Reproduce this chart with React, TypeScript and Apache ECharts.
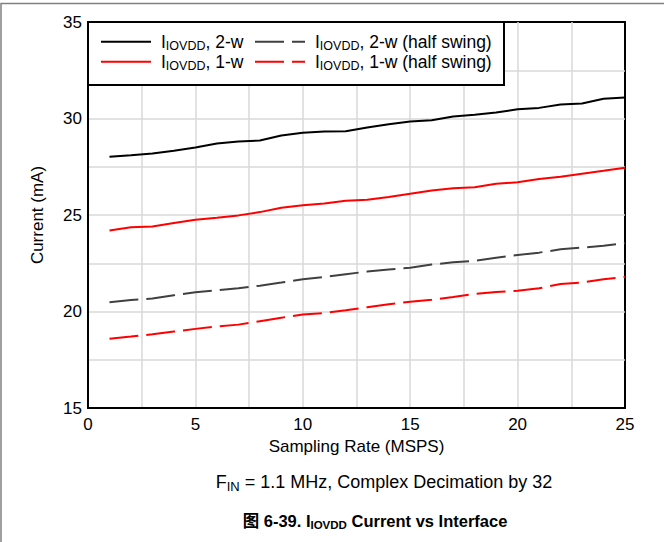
import React, { useEffect, useRef } from "react";
import * as echarts from "echarts";

const xValues = [1, 2, 3, 4, 5, 6, 7, 8, 9, 10, 11, 12, 13, 14, 15, 16, 17, 18, 19, 20, 21, 22, 23, 24, 25];
const twoWire = [28.02, 28.1, 28.19, 28.33, 28.5, 28.7, 28.81, 28.86, 29.12, 29.26, 29.33, 29.34, 29.53, 29.7, 29.84, 29.91, 30.1, 30.2, 30.31, 30.48, 30.55, 30.72, 30.78, 31.02, 31.09];
const twoWireHalf = [20.48, 20.6, 20.67, 20.84, 21.0, 21.1, 21.2, 21.34, 21.5, 21.67, 21.79, 21.93, 22.07, 22.17, 22.27, 22.43, 22.55, 22.63, 22.79, 22.93, 23.05, 23.22, 23.31, 23.41, 23.54];
const oneWire = [24.2, 24.36, 24.41, 24.58, 24.75, 24.86, 24.98, 25.15, 25.38, 25.5, 25.6, 25.74, 25.79, 25.93, 26.1, 26.27, 26.39, 26.44, 26.62, 26.7, 26.86, 26.98, 27.14, 27.29, 27.45];
const oneWireHalf = [18.59, 18.7, 18.82, 18.96, 19.1, 19.22, 19.32, 19.5, 19.68, 19.84, 19.92, 20.06, 20.22, 20.38, 20.5, 20.61, 20.75, 20.91, 21.01, 21.08, 21.2, 21.43, 21.5, 21.67, 21.79];

const seriesNames = [
  "IIOVDD, 2-w",
  "IIOVDD, 2-w (half swing)",
  "IIOVDD, 1-w",
  "IIOVDD, 1-w (half swing)",
];
const legendLabels: Record<string, string> = {
  "IIOVDD, 2-w": "{n|I}{s|IOVDD}{n|, 2-w}",
  "IIOVDD, 2-w (half swing)": "{n|I}{s|IOVDD}{n|, 2-w (half swing)}",
  "IIOVDD, 1-w": "{n|I}{s|IOVDD}{n|, 1-w}",
  "IIOVDD, 1-w (half swing)": "{n|I}{s|IOVDD}{n|, 1-w (half swing)}",
};

const xAxisTitle = "Sampling Rate (MSPS)";
const yAxisTitle = "Current (mA)";

const FONT = "'Liberation Sans', Arial, 'Noto Sans CJK SC', sans-serif";

function pairs(ys: number[]) {
  return xValues.map((x, i) => [x, ys[i]]);
}

export default function App() {
  const ref = useRef<HTMLDivElement>(null);
  useEffect(() => {
    if (!ref.current) return;
    const chart = echarts.init(ref.current, undefined, { renderer: "svg" });
    const legendText = {
      color: "#000",
      fontFamily: FONT,
      fontSize: 17.5,
      padding: [0, 0, 0, 5],
      rich: {
        n: { fontSize: 17.5, fontFamily: FONT, color: "#000" },
        s: { fontSize: 12.5, fontFamily: FONT, color: "#000", padding: [9, 0, 0, 0] },
      },
    };
    const mkLegend = (name: string, left: number, top: number) => ({
      data: [name],
      left,
      top,
      padding: 0,
      itemWidth: 50,
      itemHeight: 20,
      z: 10,
      selectedMode: false,
      itemStyle: { opacity: 0, borderWidth: 0 },
      formatter: (n: string) => legendLabels[n],
      textStyle: legendText,
    });
    const axisLabelStyle = { color: "#000", fontSize: 17, fontFamily: FONT };
    chart.setOption({
      animation: false,
      backgroundColor: "#fff",
      grid: {
        left: 88,
        right: 39,
        top: 22,
        bottom: 134,
        show: true,
        borderColor: "#000",
        borderWidth: 2,
        backgroundColor: "transparent",
      },
      legend: [
        mkLegend(seriesNames[0], 100, 33),
        mkLegend(seriesNames[1], 254, 33),
        mkLegend(seriesNames[2], 100, 53),
        mkLegend(seriesNames[3], 254, 53),
      ],
      xAxis: {
        type: "value",
        min: 0,
        max: 25,
        interval: 2.5,
        name: xAxisTitle,
        nameLocation: "middle",
        nameGap: 22,
        nameTextStyle: { ...axisLabelStyle },
        axisLine: { show: true, lineStyle: { color: "#000", width: 2 } },
        axisTick: { show: false },
        axisLabel: {
          ...axisLabelStyle,
          margin: 8,
          formatter: (v: number) => (v % 5 === 0 ? String(v) : ""),
        },
        splitLine: {
          show: true,
          showMinLine: false,
          showMaxLine: false,
          lineStyle: { color: "#d9d9d9", width: 1.5 },
        },
      },
      yAxis: {
        type: "value",
        min: 15,
        max: 35,
        interval: 2.5,
        name: yAxisTitle,
        nameLocation: "middle",
        nameGap: 42,
        nameRotate: 90,
        nameTextStyle: { ...axisLabelStyle },
        axisLine: { show: true, lineStyle: { color: "#000", width: 2 } },
        axisTick: { show: false },
        axisLabel: {
          ...axisLabelStyle,
          margin: 6,
          formatter: (v: number) => (v % 5 === 0 ? String(v) : ""),
        },
        splitLine: {
          show: true,
          showMinLine: false,
          showMaxLine: false,
          lineStyle: { color: "#d9d9d9", width: 1.5 },
        },
      },
      series: [
        {
          name: seriesNames[0],
          type: "line",
          data: pairs(twoWire),
          symbol: "none",
          showSymbol: false,
          lineStyle: { color: "#000", width: 2 },
          itemStyle: { color: "#000" },
        },
        {
          name: seriesNames[1],
          type: "line",
          data: pairs(twoWireHalf),
          symbol: "none",
          showSymbol: false,
          lineStyle: { color: "#404040", width: 2, type: [29, 8] },
          itemStyle: { color: "#404040" },
        },
        {
          name: seriesNames[2],
          type: "line",
          data: pairs(oneWire),
          symbol: "none",
          showSymbol: false,
          lineStyle: { color: "#ff0000", width: 2 },
          itemStyle: { color: "#ff0000" },
        },
        {
          name: seriesNames[3],
          type: "line",
          data: pairs(oneWireHalf),
          symbol: "none",
          showSymbol: false,
          lineStyle: { color: "#ff0000", width: 2, type: [29, 8] },
          itemStyle: { color: "#ff0000" },
        },
      ],
      graphic: [
        {
          type: "rect",
          z: 1,
          silent: true,
          shape: { x: 1, y: 3.5, width: 800, height: 800 },
          style: { fill: "none", stroke: "#808080", lineWidth: 1.5 },
        },
        {
          type: "rect",
          z: 5,
          silent: true,
          shape: { x: 88, y: 22, width: 416, height: 63 },
          style: { fill: "#fff", stroke: "#000", lineWidth: 2 },
        },
        {
          type: "text",
          z: 5,
          x: 384,
          y: 482,
          style: {
            text: "{n|F}{s|IN}{n| = 1.1 MHz, Complex Decimation by 32}",
            textAlign: "center",
            textVerticalAlign: "middle",
            fill: "#000",
            font: `18px ${FONT}`,
            rich: {
              n: { fontSize: 18, fontFamily: FONT, fill: "#000" },
              s: { fontSize: 13, fontFamily: FONT, fill: "#000", padding: [8, 0, 0, 0] },
            },
          },
        },
        {
          type: "text",
          z: 5,
          x: 375,
          y: 521,
          style: {
            text: "{n|图 6-39. I}{s|IOVDD}{n| Current vs Interface}",
            textAlign: "center",
            textVerticalAlign: "middle",
            fill: "#000",
            font: `bold 16px ${FONT}`,
            rich: {
              n: { fontSize: 16.5, fontWeight: "bold", fontFamily: FONT, fill: "#000" },
              s: { fontSize: 11.5, fontWeight: "bold", fontFamily: FONT, fill: "#000", padding: [8, 0, 0, 0] },
            },
          },
        },
      ],
    });
    return () => chart.dispose();
  }, []);
  return (
    <div
      ref={ref}
      style={{ position: "absolute", left: 0, top: 0, width: 664, height: 542 }}
    />
  );
}
